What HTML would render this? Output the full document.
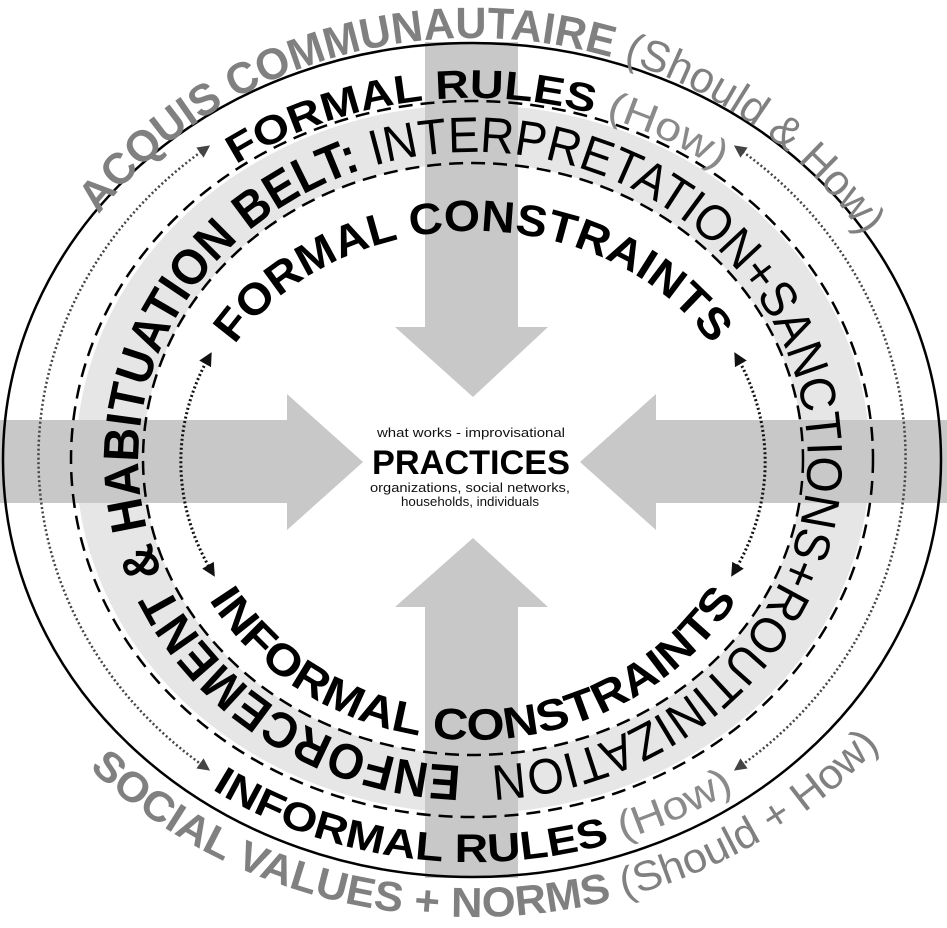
<!DOCTYPE html>
<html><head><meta charset="utf-8"><style>
html,body{margin:0;padding:0;background:#fff;}
svg{display:block;}
text{font-family:"Liberation Sans",sans-serif;}
</style></head><body>
<svg id="s" width="947" height="928" viewBox="0 0 947 928" xmlns="http://www.w3.org/2000/svg">
<defs>
<marker id="ag" viewBox="0 0 10 10" refX="5" refY="5" markerWidth="5" markerHeight="5" orient="auto-start-reverse" markerUnits="strokeWidth"><path d="M0,0 L10,5 L0,10 z" fill="#444"/></marker>
<marker id="ab" viewBox="0 0 10 10" refX="5" refY="5" markerWidth="4.5" markerHeight="4.5" orient="auto-start-reverse" markerUnits="strokeWidth"><path d="M0,0 L10,5 L0,10 z" fill="#111"/></marker>
<path id="p1" d="M98.6,214.8 A460,422 0 0 1 863.1,236.4"/>
<path id="p2" d="M236,164.6 A410,362 0 0 1 718,169.7"/>
<path id="p3" d="M461.3,765.8 A335,307 0 0 1 473,152 A335,307 0 0 1 491.7,765.5"/>
<path id="p4" d="M234.8,345 A275,228 0 0 1 711.2,345"/>
<path id="p5" d="M208.9,599.5 A305,281 0 0 0 737.1,599.5"/>
<path id="p6" d="M211.8,789.1 A455,403 0 0 0 734.2,789.1"/>
<path id="p7" d="M89.2,768 A520,457 0 0 0 879.6,745.2"/>
</defs>
<rect width="947" height="928" fill="#fff"/>
<path fill="#e6e6e6" fill-rule="evenodd" d="M76,459 A397,354 0 1 0 870,459 A397,354 0 1 0 76,459 Z M143,459 A330,296 0 1 0 803,459 A330,296 0 1 0 143,459 Z"/>
<g fill="#c8c8c8">
<rect x="425" y="42" width="93" height="286"/>
<polygon points="395,327 548,327 473,397"/>
<polygon points="395,607 548,607 473,538"/>
<rect x="425" y="606" width="93" height="272"/>
<rect x="0" y="420" width="288" height="83"/>
<polygon points="287,394 287,530 363,462"/>
<polygon points="656,394 656,530 580,462"/>
<rect x="655" y="420" width="292" height="83"/>
</g>
<ellipse cx="472" cy="460" rx="469" ry="417" fill="none" stroke="#000" stroke-width="2.5"/>
<ellipse cx="472" cy="459" rx="401" ry="358" fill="none" stroke="#000" stroke-width="2.5" stroke-dasharray="14 8"/>
<ellipse cx="473" cy="459" rx="330" ry="296" fill="none" stroke="#000" stroke-width="2.5" stroke-dasharray="14 8"/>
<g fill="none" stroke="#444" stroke-width="2.5" stroke-dasharray="2 2.5">
<path d="M205,149 A433,392 0 0 0 205,767" marker-start="url(#ag)" marker-end="url(#ag)"/>
<path d="M739,149 A433,392 0 0 1 739,767" marker-start="url(#ag)" marker-end="url(#ag)"/>
</g>
<g fill="none" stroke="#111" stroke-width="3" stroke-dasharray="2 2.5">
<path d="M208.4,358 A292,245 0 0 0 211.4,571" marker-start="url(#ab)" marker-end="url(#ab)"/>
<path d="M737.6,358 A292,245 0 0 1 734.6,571" marker-start="url(#ab)" marker-end="url(#ab)"/>
</g>
<text class="fit" data-p="p1" data-f="1" font-size="44" fill="#808080"><textPath href="#p1"><tspan font-weight="bold">ACQUIS COMMUNAUTAIRE</tspan> (Should &amp; How)</textPath></text>
<text class="fit" data-p="p2" data-f="1" font-size="40" font-weight="bold" fill="#000"><textPath href="#p2">FORMAL RULES <tspan font-weight="normal" fill="#8a8a8a">(How)</tspan></textPath></text>
<text class="fit" data-p="p3" data-f="1" font-size="50" fill="#000"><textPath href="#p3"><tspan font-weight="bold">ENFORCEMENT &amp; HABITUATION BELT:</tspan> INTERPRETATION+SANCTIONS+ROUTINIZATION</textPath></text>
<text class="fit" data-p="p4" data-f="1" font-size="44" font-weight="bold" fill="#000"><textPath href="#p4">FORMAL CONSTRAINTS</textPath></text>
<text class="fit" data-p="p5" data-f="1" font-size="44" font-weight="bold" fill="#000"><textPath href="#p5">INFORMAL CONSTRAINTS</textPath></text>
<text class="fit" data-p="p6" data-f="1" font-size="40" font-weight="bold" fill="#000"><textPath href="#p6">INFORMAL RULES <tspan font-weight="normal" fill="#8a8a8a">(How)</tspan></textPath></text>
<text class="fit" data-p="p7" data-f="1" font-size="42" fill="#808080"><textPath href="#p7"><tspan font-weight="bold">SOCIAL VALUES + NORMS</tspan> (Should + How)</textPath></text>
<text x="471" y="437" font-size="12.5" text-anchor="middle" fill="#111" textLength="188" lengthAdjust="spacingAndGlyphs">what works - improvisational</text>
<text x="471" y="474" font-size="34" font-weight="bold" text-anchor="middle" fill="#000" textLength="198" lengthAdjust="spacingAndGlyphs">PRACTICES</text>
<text x="470" y="492" font-size="12.5" text-anchor="middle" fill="#111" textLength="200" lengthAdjust="spacingAndGlyphs">organizations, social networks,</text>
<text x="470" y="506" font-size="12.5" text-anchor="middle" fill="#111" textLength="138" lengthAdjust="spacingAndGlyphs">households, individuals</text>
</svg>
<script>
document.querySelectorAll('text.fit').forEach(function(t){
  var p=document.getElementById(t.getAttribute('data-p'));
  var L=p.getTotalLength()*parseFloat(t.getAttribute('data-f'));
  t.setAttribute('textLength',L.toFixed(1));
  t.setAttribute('lengthAdjust','spacingAndGlyphs');
});
</script>
</body></html>
